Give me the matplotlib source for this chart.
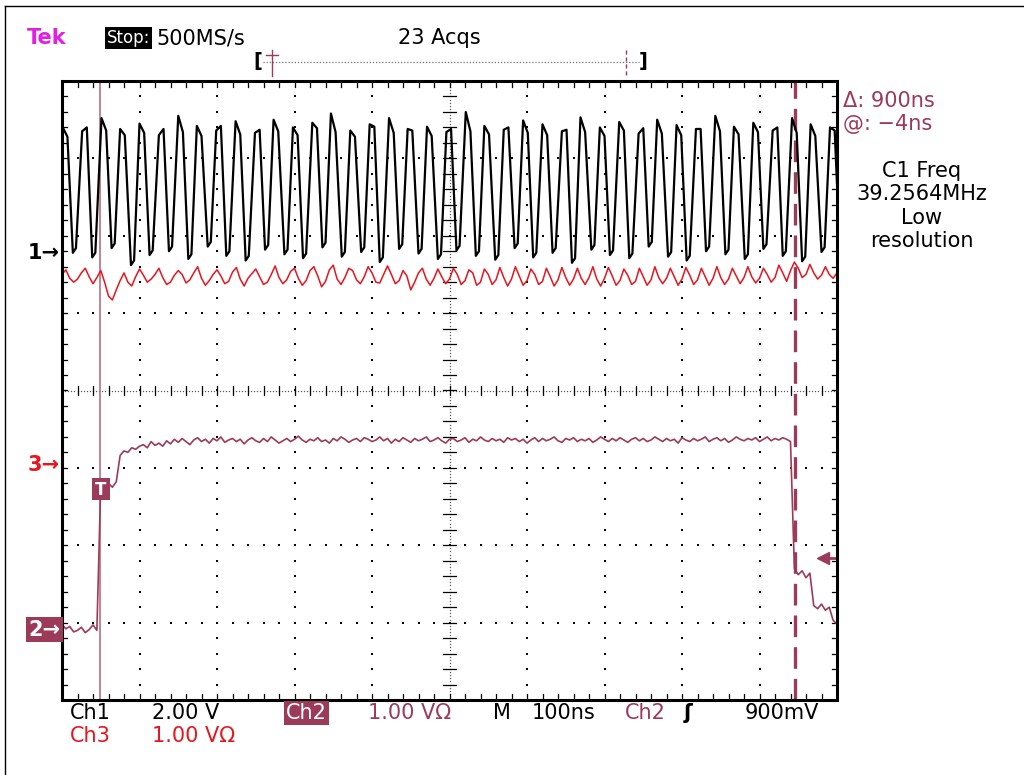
import matplotlib
matplotlib.use("Agg")
import matplotlib.pyplot as plt
import numpy as np
from matplotlib.patches import Rectangle

# ---- scope data (time in ns, amplitude in divisions from screen centre) ----
# Ch1: square-ish clock, read as one peak/trough per cycle
ch1_peak_ns = [4, 29, 54, 78, 103, 128, 153, 177, 202, 227, 252, 276, 301, 326,
               350, 375, 400, 425, 449, 474, 499, 524, 548, 573, 598, 623, 648,
               672, 697, 722, 747, 771, 796, 821, 846, 870, 895, 920, 945, 969, 994]
ch1_trough_ns = [16, 41, 66, 91, 115, 140, 165, 190, 214, 239, 264, 289, 313, 338,
                 363, 388, 412, 437, 462, 487, 511, 536, 561, 586, 610, 635, 660,
                 685, 709, 734, 759, 784, 808, 833, 858, 883, 907, 932, 957, 982, 1006]
ch1_high_a = [3.40, 3.35, 3.52, 3.38, 3.45, 3.30, 3.55, 3.42, 3.36, 3.48, 3.33, 3.50,
              3.40, 3.46, 3.58, 3.36, 3.44, 3.52, 3.38, 3.41, 3.34, 3.60, 3.42, 3.37,
              3.49, 3.44, 3.35, 3.53, 3.40, 3.47, 3.32, 3.50, 3.43, 3.38, 3.55, 3.41,
              3.46, 3.36, 3.52, 3.44, 3.40]
ch1_high_b = [3.28, 3.40, 3.36, 3.30, 3.33, 3.38, 3.34, 3.29, 3.42, 3.31, 3.37, 3.35,
              3.30, 3.39, 3.34, 3.28, 3.41, 3.33, 3.36, 3.29, 3.38, 3.35, 3.31, 3.40,
              3.33, 3.30, 3.37, 3.34, 3.29, 3.36, 3.39, 3.32, 3.30, 3.38, 3.35, 3.31,
              3.34, 3.40, 3.33, 3.29, 3.36]
ch1_low = [1.78, 1.72, 1.84, 1.62, 1.75, 1.80, 1.70, 1.86, 1.74, 1.68, 1.82, 1.76,
           1.71, 1.85, 1.73, 1.79, 1.66, 1.83, 1.77, 1.70, 1.81, 1.74, 1.69, 1.84,
           1.72, 1.78, 1.65, 1.82, 1.75, 1.71, 1.86, 1.73, 1.68, 1.80, 1.76, 1.70,
           1.83, 1.74, 1.67, 1.79, 1.75]

# Ch3 and Ch2 sampled every 5 ns, 0..1000 ns
ch3_v = [1.50, 1.56, 1.45, 1.40, 1.44, 1.52, 1.58, 1.47, 1.38, 1.46,
         1.55, 1.40, 1.22, 1.17, 1.30, 1.42, 1.52, 1.40, 1.35, 1.47,
         1.57, 1.49, 1.40, 1.44, 1.50, 1.58, 1.46, 1.37, 1.40, 1.49,
         1.55, 1.50, 1.39, 1.43, 1.52, 1.60, 1.45, 1.36, 1.42, 1.50,
         1.56, 1.48, 1.38, 1.41, 1.53, 1.59, 1.44, 1.35, 1.45, 1.51,
         1.57, 1.47, 1.37, 1.40, 1.50, 1.61, 1.46, 1.38, 1.43, 1.54,
         1.58, 1.45, 1.36, 1.42, 1.55, 1.60, 1.48, 1.34, 1.41, 1.56,
         1.62, 1.44, 1.37, 1.46, 1.58, 1.55, 1.43, 1.38, 1.47, 1.60,
         1.52, 1.40, 1.39, 1.50, 1.61, 1.50, 1.38, 1.42, 1.55, 1.48,
         1.30, 1.40, 1.52, 1.58, 1.44, 1.36, 1.45, 1.57, 1.47, 1.38,
         1.44, 1.58, 1.50, 1.37, 1.42, 1.56, 1.52, 1.36, 1.40, 1.57,
         1.50, 1.37, 1.43, 1.59, 1.46, 1.35, 1.44, 1.60, 1.48, 1.36,
         1.42, 1.57, 1.50, 1.37, 1.41, 1.58, 1.47, 1.35, 1.43, 1.59,
         1.46, 1.36, 1.44, 1.58, 1.45, 1.37, 1.46, 1.60, 1.44, 1.35,
         1.45, 1.59, 1.48, 1.36, 1.42, 1.57, 1.49, 1.37, 1.41, 1.58,
         1.47, 1.36, 1.43, 1.60, 1.46, 1.38, 1.45, 1.58, 1.47, 1.36,
         1.44, 1.59, 1.49, 1.37, 1.43, 1.58, 1.47, 1.36, 1.45, 1.60,
         1.46, 1.37, 1.44, 1.58, 1.48, 1.38, 1.46, 1.60, 1.47, 1.39,
         1.45, 1.58, 1.50, 1.40, 1.46, 1.62, 1.52, 1.41, 1.55, 1.66,
         1.58, 1.46, 1.50, 1.63, 1.52, 1.44, 1.49, 1.60, 1.50, 1.45,
         1.52]
ch2_v = [-3.02, -3.08, -3.05, -3.12, -3.10, -3.06, -3.13, -3.09, -3.03, -3.10,
         -1.22, -1.26, -1.20, -1.25, -1.18,
         -0.84, -0.78, -0.80, -0.74, -0.76,
         -0.72, -0.70, -0.74, -0.66, -0.71,
         -0.68, -0.72, -0.65, -0.69, -0.63,
         -0.67, -0.62, -0.66, -0.70, -0.64,
         -0.61, -0.66, -0.63, -0.68, -0.62, -0.65, -0.60, -0.67, -0.64, -0.62, -0.66,
         -0.63, -0.69, -0.64, -0.61, -0.65, -0.67, -0.62, -0.66, -0.60, -0.64, -0.68,
         -0.65, -0.62, -0.66, -0.63, -0.59, -0.64, -0.67, -0.63, -0.65, -0.61, -0.66,
         -0.64, -0.68, -0.62, -0.65, -0.60, -0.63, -0.67, -0.64, -0.62, -0.66, -0.61,
         -0.63, -0.66, -0.64, -0.60, -0.65, -0.62, -0.68, -0.63, -0.66, -0.61, -0.64,
         -0.67, -0.62, -0.65, -0.63, -0.60, -0.66, -0.64, -0.61, -0.65, -0.68, -0.63,
         -0.62, -0.66, -0.64, -0.61, -0.67, -0.63, -0.65, -0.60, -0.64, -0.66, -0.62,
         -0.65, -0.63, -0.67, -0.61, -0.64, -0.62, -0.66, -0.63, -0.68, -0.64, -0.61,
         -0.66, -0.62, -0.65, -0.63, -0.60, -0.65, -0.67, -0.62, -0.64, -0.61, -0.66,
         -0.63, -0.65, -0.62, -0.67, -0.64, -0.60, -0.63, -0.66, -0.62, -0.65, -0.61,
         -0.64, -0.67, -0.63, -0.61, -0.65, -0.62, -0.66, -0.64, -0.60, -0.63, -0.66,
         -0.62, -0.65, -0.63, -0.68, -0.61, -0.64, -0.66, -0.62, -0.65, -0.63, -0.60,
         -0.66, -0.63, -0.61, -0.65, -0.62, -0.67, -0.64, -0.60, -0.63, -0.65, -0.62,
         -0.64, -0.61, -0.66, -0.63, -0.60, -0.65, -0.62, -0.64, -0.61, -0.63, -0.66,
         -2.30, -2.38, -2.33, -2.42, -2.36,
         -2.78, -2.82, -2.76, -2.84, -2.80,
         -2.97, -3.02]

# cursor / marker readings
trig_ns = 49
cursor2_ns = 946
trig_level = -2.16
ch_markers = [("1", 1.78), ("3", -0.96), ("2", -3.09)]

MAROON = "#9C3B57"
CURSOR = "#B8707F"
RED = "#E8141E"
MAGENTA = "#E41EE4"

W, H = 1024, 775
fig = plt.figure(figsize=(W / 100, H / 100), dpi=100)
fig.patch.set_facecolor("white")


def fx(x):
    return x / W


def fy(y):
    return 1 - y / H


# screen area
L, T, R, B = 62, 81, 837, 700
ax = fig.add_axes([fx(L), fy(B), (R - L) / W, (B - T) / H])
ax.set_xlim(0, 1000)
ax.set_ylim(-4, 4)
ax.axis("off")

# graticule dots
minor = np.arange(0, 10.01, 0.2)
minor_y = np.arange(-4, 4.01, 0.2)
for gx in range(1, 10):
    if gx == 5:
        continue
    ax.plot(np.full_like(minor_y, gx * 100), minor_y, ls="none", marker="s", ms=1.5,
            color="k", mew=0)
for gy in range(-3, 4):
    if gy == 0:
        continue
    ax.plot(minor * 100, np.full_like(minor, gy), ls="none", marker="s", ms=1.5,
            color="k", mew=0)
# centre cross: fine dots plus ticks
fine = np.arange(0, 10.01, 0.04)
fine_y = np.arange(-4, 4.01, 0.04)
ax.plot(fine * 100, np.zeros_like(fine), ls="none", marker="s", ms=0.9, color="0.35", mew=0)
ax.plot(np.full_like(fine_y, 500), fine_y, ls="none", marker="s", ms=0.9, color="0.35", mew=0)
for m in minor:
    ax.plot([m * 100, m * 100], [-0.06, 0.06], color="k", lw=0.9)
    ax.plot([m * 100, m * 100], [-4, -3.92], color="k", lw=0.9)
    ax.plot([m * 100, m * 100], [4, 3.92], color="k", lw=0.9)
for m in minor_y:
    ax.plot([492, 508], [m, m], color="k", lw=0.9)
    ax.plot([0, 6], [m, m], color="k", lw=0.9)
    ax.plot([994, 1000], [m, m], color="k", lw=0.9)

# cursors
ax.axvline(trig_ns, color=CURSOR, lw=1.2, zorder=3)
ax.axvline(cursor2_ns, color=MAROON, lw=2.4, dashes=(6.5, 3), zorder=3)

# Ch1 trace
t1, v1 = [], []
for p, tr, ha, hb, lo in zip(ch1_peak_ns, ch1_trough_ns, ch1_high_a, ch1_high_b, ch1_low):
    t1 += [p - 3, p + 3, tr - 2, tr + 2]
    v1 += [ha, hb, lo, lo + 0.06]
ax.plot(t1, v1, color="black", lw=1.6, zorder=4)

t5 = np.arange(0, 1001, 5)
ax.plot(t5, ch3_v, color=RED, lw=1.1, zorder=5)
ax.plot(t5, ch2_v, color=MAROON, lw=1.2, zorder=5)

# trigger "T" box
ax.add_patch(Rectangle((38.7, -1.42), 23, 0.29, facecolor=MAROON, edgecolor="none", zorder=6))
ax.text(50, -1.28, "T", color="white", ha="center", va="center", fontsize=12,
        fontweight="bold", zorder=7)

# trigger level arrow on the right
ax.plot([985, 1000], [trig_level, trig_level], color=MAROON, lw=2, zorder=6, clip_on=False)
ax.plot([982], [trig_level], marker="<", ms=9, color=MAROON, zorder=6, clip_on=False)

# frame
ax.add_patch(Rectangle((0, -4), 1000, 8, fill=False, edgecolor="black", lw=2.2,
                       zorder=8, clip_on=False))

# channel ground markers
for name, lvl in ch_markers:
    ypx = B - (lvl + 4) / 8 * (B - T)
    if name == "2":
        fig.text(fx(60), fy(ypx), "2\u2192", color="white", ha="right", va="center",
                 fontsize=15, fontweight="bold",
                 bbox=dict(boxstyle="square,pad=0.12", fc=MAROON, ec="none"))
    else:
        fig.text(fx(60), fy(ypx), name + "\u2192", color="black" if name == "1" else RED,
                 ha="right", va="center", fontsize=15, fontweight="bold")

# header
fs = 15
fig.text(fx(27), fy(38), "Tek", color=MAGENTA, fontsize=fs, fontweight="bold", va="center")
fig.text(fx(107), fy(38), "Stop:", color="white", fontsize=12, va="center",
         bbox=dict(boxstyle="square,pad=0.12", fc="black", ec="none"))
fig.text(fx(156), fy(38), "500MS/s", color="black", fontsize=fs, va="center")
fig.text(fx(439), fy(38), "23 Acqs", color="black", fontsize=fs, va="center", ha="center")

# record bar
fig.text(fx(258), fy(62), "[", fontsize=14, ha="center", va="center", fontweight="bold")
fig.text(fx(643), fy(62), "]", fontsize=14, ha="center", va="center", fontweight="bold")
fig.add_artist(plt.Line2D([fx(263), fx(639)], [fy(62), fy(62)], color="0.45", lw=0.9,
                          ls=(0, (1, 1.5))))
fig.add_artist(plt.Line2D([fx(272), fx(272)], [fy(50), fy(76)], color=MAROON, lw=1))
fig.add_artist(plt.Line2D([fx(266), fx(278)], [fy(55), fy(55)], color=MAROON, lw=1))
fig.add_artist(plt.Line2D([fx(626), fx(626)], [fy(50), fy(76)], color=MAROON, lw=1,
                          ls=(0, (3, 2))))

# right side readouts
fig.text(fx(843), fy(101), "\u0394: 900ns", color=MAROON, fontsize=fs, va="center")
fig.text(fx(843), fy(124), "@: \u22124ns", color=MAROON, fontsize=fs, va="center")
for i, s in enumerate(["C1 Freq", "39.2564MHz", "Low", "resolution"]):
    fig.text(fx(922), fy(171 + 23.5 * i), s, color="black", fontsize=fs, va="center",
             ha="center")

# bottom readouts
yb1, yb2 = 713, 736
fig.text(fx(70), fy(yb1), "Ch1", fontsize=fs, va="center")
fig.text(fx(152), fy(yb1), "2.00 V", fontsize=fs, va="center")
fig.text(fx(286), fy(yb1), "Ch2", color="white", fontsize=fs, va="center",
         bbox=dict(boxstyle="square,pad=0.1", fc=MAROON, ec="none"))
fig.text(fx(368), fy(yb1), "1.00 V\u03a9", color=MAROON, fontsize=fs, va="center")
fig.text(fx(493), fy(yb1), "M", fontsize=fs, va="center")
fig.text(fx(532), fy(yb1), "100ns", fontsize=fs, va="center")
fig.text(fx(625), fy(yb1), "Ch2", color=MAROON, fontsize=fs, va="center")
fig.text(fx(684), fy(yb1), "\u0283", fontsize=fs, va="center", fontweight="bold")
fig.text(fx(745), fy(yb1), "900mV", fontsize=fs, va="center")
fig.text(fx(70), fy(yb2), "Ch3", color=RED, fontsize=fs, va="center")
fig.text(fx(152), fy(yb2), "1.00 V\u03a9", color=RED, fontsize=fs, va="center")

# outer border of the screenshot (left and top edges)
fig.add_artist(plt.Line2D([fx(5), fx(5)], [fy(6), 0], color="black", lw=1))
fig.add_artist(plt.Line2D([fx(5), 1], [fy(6), fy(6)], color="black", lw=1))

fig.savefig("out.png", dpi=100)
